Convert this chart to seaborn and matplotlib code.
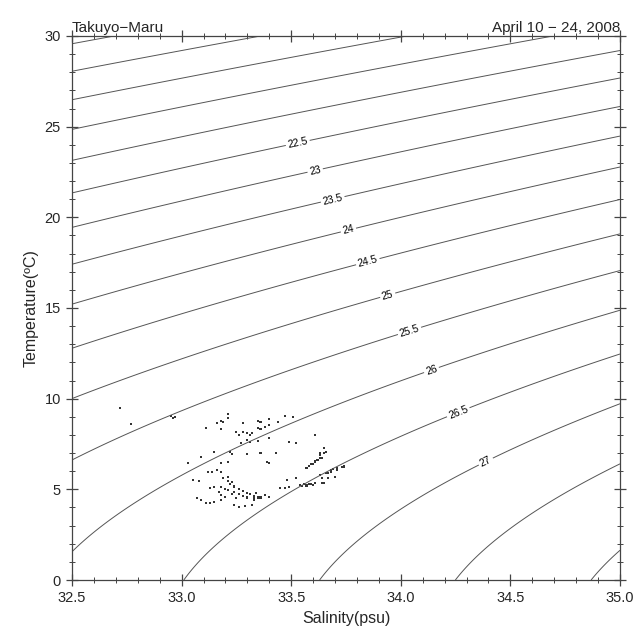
import numpy as np
import pandas as pd
import matplotlib
matplotlib.use("Agg")
import matplotlib.pyplot as plt
from matplotlib.ticker import MultipleLocator
import seaborn as sns

salinity = [
    32.72, 32.77, 32.95, 32.97, 32.96,
    33.21, 33.21, 33.16, 33.11, 33.18, 33.18, 33.19, 33.28, 33.28, 33.30,
    33.31, 33.32, 33.35, 33.36, 33.40, 33.40, 33.44, 33.47, 33.51, 33.35,
    33.36, 33.38, 33.25, 33.26, 33.30, 33.31, 33.27, 33.35, 33.40, 33.49,
    33.52, 33.61, 33.15, 33.22, 33.23, 33.30, 33.36, 33.43, 33.39, 33.18,
    33.21, 33.09, 33.03, 33.65, 33.66, 33.63,
    33.63, 33.62, 33.61, 33.59, 33.58, 33.57, 33.61, 33.60, 33.64,
    33.05, 33.08, 33.12, 33.14, 33.16, 33.18, 33.19, 33.21,
    33.19, 33.21, 33.22, 33.24, 33.26, 33.28, 33.30, 33.31, 33.33, 33.35, 33.36,
    33.18, 33.20, 33.21, 33.24, 33.26, 33.28, 33.30, 33.33,
    33.07, 33.09, 33.11, 33.13, 33.15, 33.18,
    33.24, 33.26, 33.29, 33.32,
    33.17, 33.18, 33.20, 33.23, 33.25, 33.30, 33.33, 33.35,
    33.15, 33.13, 33.23, 33.24, 33.40,
    33.48, 33.52, 33.45, 33.47, 33.49,
    33.54, 33.56, 33.58, 33.59, 33.61, 33.55, 33.57,
    33.65, 33.64, 33.67, 33.68,
    33.34, 33.36, 33.38, 33.40,
    33.63, 33.65, 33.71, 33.74, 33.69, 33.73, 33.64, 33.67, 33.63,
    33.74, 33.71, 33.68, 33.66, 33.70, 33.60,
]
temperature = [
    9.50, 8.60, 9.02, 8.98, 8.95,
    9.16, 8.94, 8.66, 8.38, 8.33, 8.77, 8.71, 8.66, 8.16, 8.11,
    8.00, 8.11, 8.77, 8.71, 8.88, 8.55, 8.71, 9.05, 8.99, 8.38,
    8.33, 8.44, 8.16, 8.00, 7.72, 7.61, 7.56, 7.67, 7.83, 7.61,
    7.56, 8.00, 7.06, 7.06, 6.95, 6.95, 7.00, 7.00, 6.51, 6.45,
    6.51, 6.78, 6.45, 7.28, 7.06, 6.89,
    6.73, 6.62, 6.51, 6.40, 6.29, 6.18, 6.56, 6.40, 6.71,
    5.52, 5.46, 5.97, 5.97, 6.07, 5.97, 5.65, 5.70,
    5.63, 5.46, 5.30, 5.13, 5.02, 4.91, 4.80, 4.74, 4.63, 4.58, 4.52,
    5.13, 5.02, 4.96, 4.85, 4.74, 4.63, 4.58, 4.52,
    4.54, 4.41, 4.26, 4.23, 4.32, 4.41,
    4.14, 4.04, 4.10, 4.14,
    4.87, 4.69, 4.59, 4.73, 4.51, 4.51, 4.41, 4.54,
    5.15, 5.06, 5.42, 5.20, 6.44,
    5.52, 5.61, 5.06, 5.06, 5.15,
    5.24, 5.27, 5.30, 5.30, 5.35, 5.18, 5.21,
    5.33, 5.61, 5.89, 6.07,
    4.78, 4.59, 4.69, 4.59,
    6.99, 6.99, 6.16, 6.25, 6.12, 6.21, 5.33, 5.61, 5.79,
    6.29, 6.07, 5.96, 5.90, 5.66, 5.24,
]
df = pd.DataFrame({"salinity": salinity, "temperature": temperature})

# density (sigma-t) contour levels: plain ones and labelled ones
plain_levels = [19.5, 20.0, 20.5, 21.0, 21.5, 22.0, 27.5, 28.0, 28.5]
label_levels = [22.5, 23.0, 23.5, 24.0, 24.5, 25.0, 25.5, 26.0, 26.5, 27.0]
label_pos = [(33.53, 24.1), (33.61, 22.55), (33.69, 20.96), (33.76, 19.36),
             (33.85, 17.54), (33.94, 15.72), (34.04, 13.73), (34.14, 11.58),
             (34.26, 9.32), (34.38, 6.73)]


def sigma_t(S, T):
    # UNESCO EOS-80 at surface pressure
    rw = (999.842594 + 6.793952e-2 * T - 9.095290e-3 * T**2
          + 1.001685e-4 * T**3 - 1.120083e-6 * T**4 + 6.536332e-9 * T**5)
    A = (8.24493e-1 - 4.0899e-3 * T + 7.6438e-5 * T**2
         - 8.2467e-7 * T**3 + 5.3875e-9 * T**4)
    B = -5.72466e-3 + 1.0227e-4 * T - 1.6546e-6 * T**2
    C = 4.8314e-4
    return rw + A * S + B * S**1.5 + C * S**2 - 1000.0


sns.set_style("ticks")
plt.rcParams["font.family"] = ["Liberation Sans", "DejaVu Sans"]

fig = plt.figure(figsize=(6.36, 6.38), dpi=100)
ax = fig.add_axes([0.1132, 0.0909, 0.8616, 0.8527])

SS, TT = np.meshgrid(np.linspace(32.5, 35.0, 300), np.linspace(0, 30, 300))
dens = sigma_t(SS, TT)
ax.contour(SS, TT, dens, levels=plain_levels, colors="#555555", linewidths=0.7)
cs = ax.contour(SS, TT, dens, levels=label_levels, colors="#555555", linewidths=0.7)
ax.clabel(cs, inline=True, fontsize=7.5, fmt=lambda v: f"{v:g}",
          manual=label_pos, colors="black", inline_spacing=2)

sns.scatterplot(data=df, x="salinity", y="temperature", ax=ax, marker="s",
                s=2.2, color="#333333", edgecolor="none", linewidth=0)

ax.set_xlim(32.5, 35.0)
ax.set_ylim(0, 30)
ax.xaxis.set_major_locator(MultipleLocator(0.5))
ax.xaxis.set_minor_locator(MultipleLocator(0.1))
ax.yaxis.set_major_locator(MultipleLocator(5))
ax.yaxis.set_minor_locator(MultipleLocator(1))
ax.xaxis.set_major_formatter(matplotlib.ticker.FormatStrFormatter("%.1f"))
ax.tick_params(which="major", direction="inout", length=9, width=0.9,
               top=True, right=True, labelsize=10.5, color="#444444")
ax.tick_params(which="minor", direction="inout", length=5, width=0.7,
               top=True, right=True, color="#444444")
for sp in ax.spines.values():
    sp.set_color("#444444")
    sp.set_linewidth(0.9)

ax.set_xlabel("Salinity(psu)", fontsize=11.5)
ax.set_ylabel("Temperature(\u00baC)", fontsize=11.5)
ax.set_title("Takuyo\u2212Maru", loc="left", fontsize=11, pad=3)
ax.set_title("April 10 \u2212 24, 2008", loc="right", fontsize=11, pad=3)

fig.savefig("out.png", dpi=100)
